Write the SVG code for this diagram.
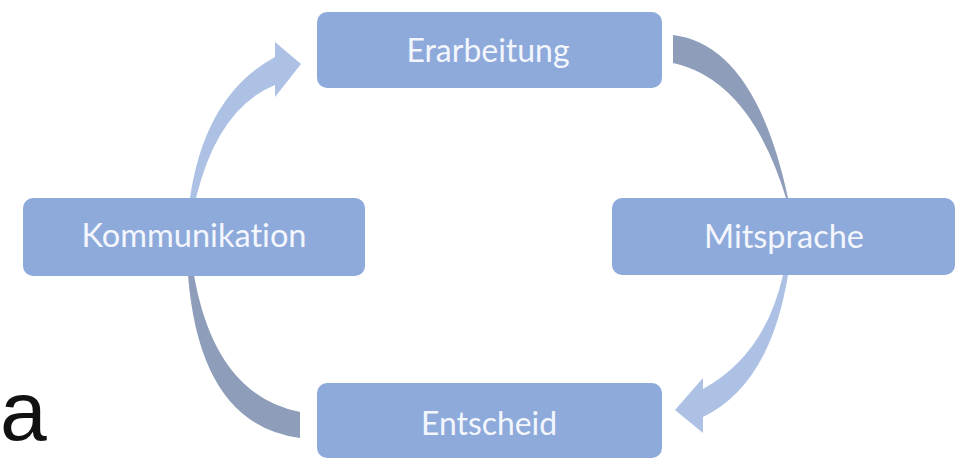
<svg xmlns="http://www.w3.org/2000/svg" width="968" height="459" viewBox="0 0 968 459">
<style>
.box{fill:#8eaadb;}
.lbl{font-family:Lato,"Open Sans",sans-serif;font-size:32px;fill:#f3f6fc;text-anchor:middle;font-variant-ligatures:none;font-feature-settings:"liga" 0;}
.light{fill:#adc1e5;}
.dark{fill:#8d9dba;}
</style>
<rect width="968" height="459" fill="#ffffff"/>
<g id="connectors">
<path class="light" d="M190,198 Q205,95 275,57 L275,42 L301,64 L275,97 L275,85 Q218,108 196,198 Z"/>
<path class="dark" d="M673,35 Q755,45 788,198 L786,198 Q750,80 673,63 Z"/>
<path class="light" d="M788,275 Q770,385 703,417 L703,433 L675,410 L703,378 L703,389 Q765,355 783,275 Z"/>
<path class="dark" d="M188,275 Q200,425 300,438 L300,412 Q215,395 194,275 Z"/>
</g>
<g id="node-erarbeitung">
<rect class="box" x="317" y="12" width="345" height="76" rx="10"/>
<text class="lbl" x="488" y="62" textLength="163" lengthAdjust="spacingAndGlyphs">Erarbeitung</text>
</g>
<g id="node-mitsprache">
<rect class="box" x="612" y="198" width="343" height="77" rx="10"/>
<text class="lbl" x="784" y="248" textLength="160" lengthAdjust="spacingAndGlyphs">Mitsprache</text>
</g>
<g id="node-kommunikation">
<rect class="box" x="23" y="198" width="342" height="78" rx="10"/>
<text class="lbl" x="194" y="247" textLength="225" lengthAdjust="spacingAndGlyphs">Kommunikation</text>
</g>
<g id="node-entscheid">
<rect class="box" x="317" y="383" width="345" height="75" rx="10"/>
<text class="lbl" x="489" y="435" textLength="136" lengthAdjust="spacingAndGlyphs">Entscheid</text>
</g>
<text x="0" y="440" style="font-family:'Liberation Sans',Arial,sans-serif;font-size:84px;fill:#111111;">a</text>
</svg>
